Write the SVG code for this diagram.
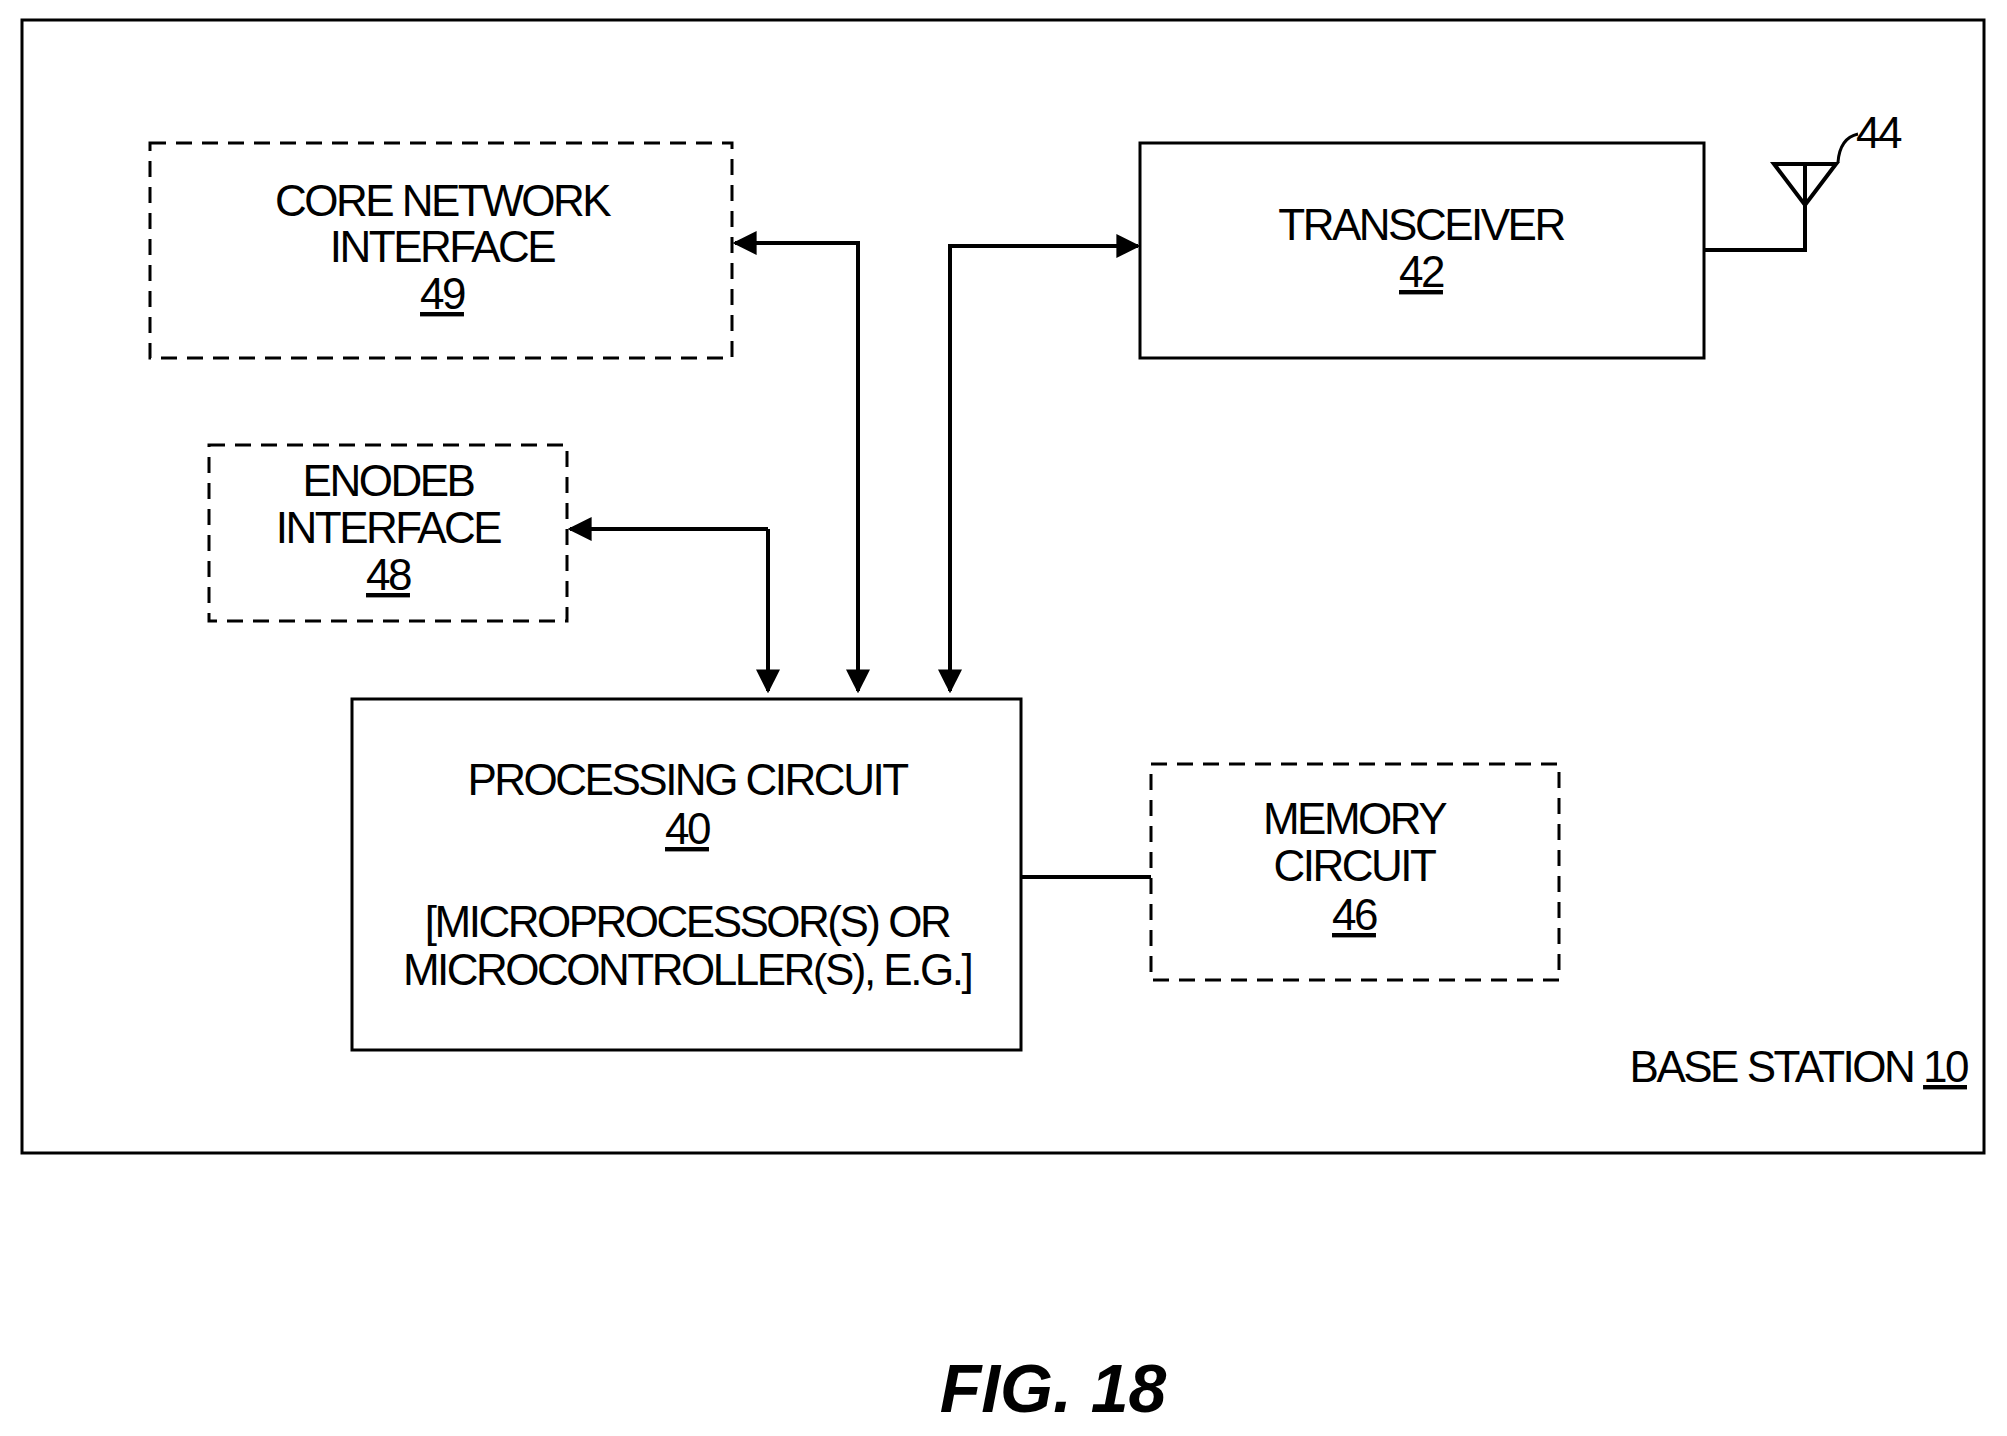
<svg xmlns="http://www.w3.org/2000/svg" width="2007" height="1436" viewBox="0 0 2007 1436">
<style>
.s{fill:none;stroke:#000;stroke-width:3}
.d{fill:none;stroke:#000;stroke-width:3;stroke-dasharray:16 10}
text{font-family:"Liberation Sans",Arial,sans-serif;font-size:44px;fill:#000;text-anchor:middle;letter-spacing:-2.5px}
.c{fill:none;stroke:#000;stroke-width:4}
</style>
<defs>
<marker id="a" viewBox="0 0 10 10" refX="9" refY="5" markerWidth="6" markerHeight="6" orient="auto-start-reverse" markerUnits="strokeWidth"><path d="M0,0 L10,5 L0,10 z" fill="#000"/></marker>
</defs>
<rect width="2007" height="1436" fill="#fff"/>
<g id="base"><rect class="s" x="22" y="20" width="1962" height="1133"/><text x="1967" y="1082" style="text-anchor:end">BASE STATION <tspan text-decoration="underline">10</tspan></text></g>
<g id="core"><rect class="d" x="150" y="143" width="582" height="215"/><text x="442" y="216">CORE NETWORK</text><text x="442" y="262">INTERFACE</text><text x="442" y="309" text-decoration="underline">49</text></g>
<g id="trx"><rect class="s" x="1140" y="143" width="564" height="215"/><text x="1421" y="240">TRANSCEIVER</text><text x="1421" y="287" text-decoration="underline">42</text></g>
<g id="enb"><rect class="d" x="209" y="445" width="358" height="176"/><text x="388" y="496">ENODEB</text><text x="388" y="543">INTERFACE</text><text x="388" y="590" text-decoration="underline">48</text></g>
<g id="proc"><rect class="s" x="352" y="699" width="669" height="351"/><text x="687" y="795">PROCESSING CIRCUIT</text><text x="687" y="844" text-decoration="underline">40</text><text x="687" y="937">[MICROPROCESSOR(S) OR</text><text x="687" y="985">MICROCONTROLLER(S), E.G.]</text></g>
<g id="mem"><rect class="d" x="1151" y="764" width="408" height="216"/><text x="1354" y="834">MEMORY</text><text x="1354" y="881">CIRCUIT</text><text x="1354" y="930" text-decoration="underline">46</text></g>
<g id="ant"><path class="c" d="M1704,250 H1805 V205"/><path class="c" d="M1774,164 H1836 L1805,205 Z M1805,164 V205" stroke-width="3"/><path class="s" d="M1838,162 Q1840,138 1858,134"/><text x="1878" y="148">44</text></g>
<g id="connectors">
<path class="c" d="M768,529 V691" marker-end="url(#a)"/>
<path class="c" d="M570,529 H768" marker-start="url(#a)"/>
<path class="c" d="M735,243 H858 V691" marker-start="url(#a)" marker-end="url(#a)"/>
<path class="c" d="M950,691 V246 H1138" marker-start="url(#a)" marker-end="url(#a)"/>
<path class="c" d="M1021,877 H1151"/>
</g>
<text x="1053" y="1412" style="font-weight:bold;font-style:italic;font-size:68px;letter-spacing:0">FIG. 18</text>
</svg>
